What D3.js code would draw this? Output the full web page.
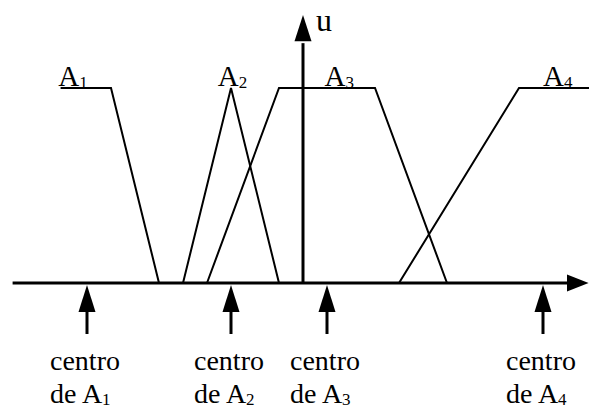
<!DOCTYPE html>
<html>
<head>
<meta charset="utf-8">
<script src="https://cdn.jsdelivr.net/npm/d3@7"></script>
<style>
  body { margin: 0; background: #fff; }
  svg text { font-family: "Liberation Serif", "Times New Roman", serif; fill: #000; }
</style>
</head>
<body>
<div id="chart"></div>
<script>
// conjunts difusos (punts x, u)
const nomsConjunts = ["A1", "A2", "A3", "A4"];
const puntsX = [
  [-10.1, -8, -6],
  [-5, -3, -1],
  [-4, -1, 3, 6],
  [4, 9, 12]
];
const puntsU = [
  [1, 1, 0],
  [0, 1, 0],
  [0, 1, 1, 0],
  [0, 1, 1]
];
// centres de cada conjunt
const centres = [-9, -3, 1, 10];
// posicio de les etiquetes A1..A4
const etiquetesX = [-10.2, -3.55, 0.9, 10];

const width = 589, height = 407;

const svg = d3.select("#chart")
  .append("svg")
    .attr("width", width)
    .attr("height", height);

// escales
const x = d3.scaleLinear().domain([-12, 12]).range([15, 591]);
const y = d3.scaleLinear().domain([0, 1]).range([283, 88]);

const linia = d3.line().x(d => x(d[0])).y(d => y(d[1]));

// eix horitzontal
svg.append("line")
  .attr("x1", x(-12.1)).attr("x2", x(11.1))
  .attr("y1", y(0)).attr("y2", y(0))
  .attr("stroke", "#000").attr("stroke-width", 3);
svg.append("path")
  .attr("d", `M${x(11)},${y(0) - 8.5}L${x(11.9)},${y(0)}L${x(11)},${y(0) + 8.5}Z`)
  .attr("fill", "#000");

// eix vertical (u)
svg.append("line")
  .attr("x1", x(0)).attr("x2", x(0))
  .attr("y1", y(0)).attr("y2", y(1.23))
  .attr("stroke", "#000").attr("stroke-width", 3);
svg.append("path")
  .attr("d", `M${x(0) - 8.5},${y(1.24)}L${x(0)},${y(1.375)}L${x(0) + 8.5},${y(1.24)}Z`)
  .attr("fill", "#000");
svg.append("text")
  .attr("x", x(0) + 13).attr("y", 31)
  .style("font-size", "32px")
  .text("u");

// funcions de pertinença
svg.selectAll(".conjunt")
  .data(nomsConjunts)
  .enter()
  .append("path")
    .attr("class", "conjunt")
    .attr("d", (d, i) => linia(puntsX[i].map((v, j) => [v, puntsU[i][j]])))
    .attr("fill", "none")
    .attr("stroke", "#000")
    .attr("stroke-width", 2);

// etiquetes A1..A4
const etiq = svg.selectAll(".etiqueta")
  .data(nomsConjunts)
  .enter()
  .append("text")
    .attr("class", "etiqueta")
    .attr("x", (d, i) => x(etiquetesX[i]))
    .attr("y", y(1) - 2)
    .style("font-size", "29px");
etiq.append("tspan").text("A");
etiq.append("tspan").attr("dy", 2).style("font-size", "17px").text(d => d.slice(1));

// fletxes dels centres
const fletxa = svg.selectAll(".centre")
  .data(centres)
  .enter()
  .append("g")
    .attr("class", "centre")
    .attr("transform", d => `translate(${x(d)},0)`);
fletxa.append("path")
  .attr("d", `M-8.5,312L0,${y(0) + 2}L8.5,312Z`)
  .attr("fill", "#000");
fletxa.append("line")
  .attr("x1", 0).attr("x2", 0)
  .attr("y1", 310).attr("y2", 334)
  .attr("stroke", "#000").attr("stroke-width", 3);

// textos "centro de Ai"
const txt = fletxa.append("text")
  .attr("x", -37)
  .attr("y", 370)
  .style("font-size", "28px");
txt.append("tspan").text("centro");
const l2 = fletxa.append("text")
  .attr("x", -37)
  .attr("y", 403)
  .style("font-size", "28px");
l2.append("tspan").text("de A");
l2.append("tspan").attr("dy", 2).style("font-size", "17px").text((d, i) => i + 1);
</script>
</body>
</html>
